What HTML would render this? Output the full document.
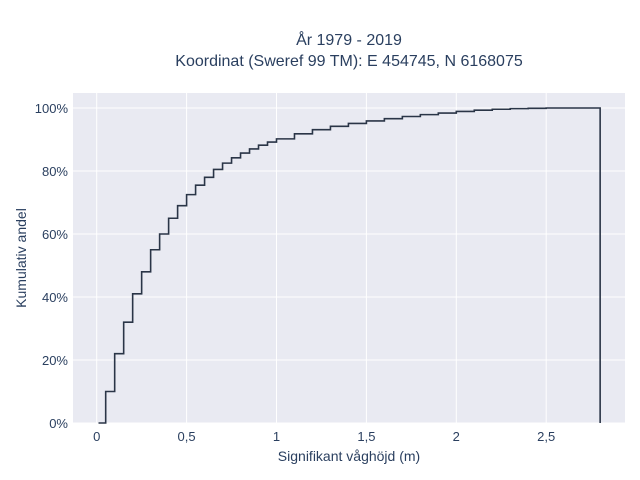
<!DOCTYPE html>
<html><head><meta charset="utf-8"><style>
html,body{margin:0;padding:0;background:#fff;}
svg{display:block;font-family:"Liberation Sans",sans-serif;}
</style></head><body>
<svg id="chart" width="640" height="480" viewBox="0 0 640 480" xmlns="http://www.w3.org/2000/svg">
<rect x="73" y="93" width="552" height="330" fill="#e9eaf2"/>
<g id="grid"></g>
<g id="ticks"></g>
<path id="line" fill="none" stroke="#2a3547" stroke-width="1.6"/>
<text x="349" y="45" text-anchor="middle" font-size="16" fill="#2a3f5f">År 1979 - 2019</text>
<text x="349" y="66" text-anchor="middle" font-size="16" fill="#2a3f5f">Koordinat (Sweref 99 TM): E 454745, N 6168075</text>
<text x="349" y="461" text-anchor="middle" font-size="14" fill="#2a3f5f">Signifikant våghöjd (m)</text>
<text x="26" y="258" text-anchor="middle" font-size="14" fill="#2a3f5f" transform="rotate(-90 26 258)">Kumulativ andel</text>
</svg>
<script>
const xEdges = [0.01,0.05,0.10,0.15,0.20,0.25,0.30,0.35,0.40,0.45,0.50,0.55,0.60,0.65,0.70,0.75,0.80,0.85,0.90,0.95,1.00,1.1,1.2,1.3,1.4,1.5,1.6,1.7,1.8,1.9,2.0,2.1,2.2,2.3,2.4,2.5,2.8];
const cdfValues = [0,10,22,32,41,48,55,60,65,69,72.5,75.5,78,80.5,82.5,84.2,85.7,87,88.2,89.2,90.2,91.8,93.1,94.2,95.1,95.9,96.6,97.3,97.9,98.4,98.9,99.3,99.6,99.8,99.9,100,100];
const xTicks = [0,0.5,1,1.5,2,2.5];
const xTickLabels = ["0","0,5","1","1,5","2","2,5"];
const yTicks = [0,20,40,60,80,100];
const yTickLabels = ["0%","20%","40%","60%","80%","100%"];

const X = v => 96.7 + v*179.8;
const Y = v => 423 - v*3.15;
const NS = "http://www.w3.org/2000/svg";
const grid = document.getElementById('grid'), ticks = document.getElementById('ticks');
xTicks.forEach((t,i)=>{
  const l=document.createElementNS(NS,'line');
  
  
  l.setAttribute('x1',X(t));l.setAttribute('x2',X(t));l.setAttribute('y1',93);l.setAttribute('y2',423);
  l.setAttribute('stroke','#fff');l.setAttribute('stroke-width','1');grid.appendChild(l);
  const tx=document.createElementNS(NS,'text');
  
  
  tx.setAttribute('x',X(t));tx.setAttribute('y',441);tx.setAttribute('text-anchor','middle');
  tx.setAttribute('font-size','13');tx.setAttribute('fill','#2a3f5f');tx.textContent=xTickLabels[i];ticks.appendChild(tx);
});
yTicks.forEach((t,i)=>{
  const l=document.createElementNS(NS,'line');
  
  
  l.setAttribute('x1',73);l.setAttribute('x2',625);l.setAttribute('y1',Y(t));l.setAttribute('y2',Y(t));
  l.setAttribute('stroke','#fff');l.setAttribute('stroke-width','1');grid.appendChild(l);
  const tx=document.createElementNS(NS,'text');
  
  
  tx.setAttribute('x',68);tx.setAttribute('y',Y(t)+5);tx.setAttribute('text-anchor','end');
  tx.setAttribute('font-size','13');tx.setAttribute('fill','#2a3f5f');tx.textContent=yTickLabels[i];ticks.appendChild(tx);
});
let d = 'M'+X(xEdges[0])+','+Y(cdfValues[0]);
for(let i=1;i<xEdges.length;i++){
  d += ' V'+Y(cdfValues[i-1]) + ' H'+X(xEdges[i]) + ' V'+Y(cdfValues[i]);
}
d += ' V'+Y(0);
document.getElementById('line').setAttribute('d',d);
</script>
</body></html>
